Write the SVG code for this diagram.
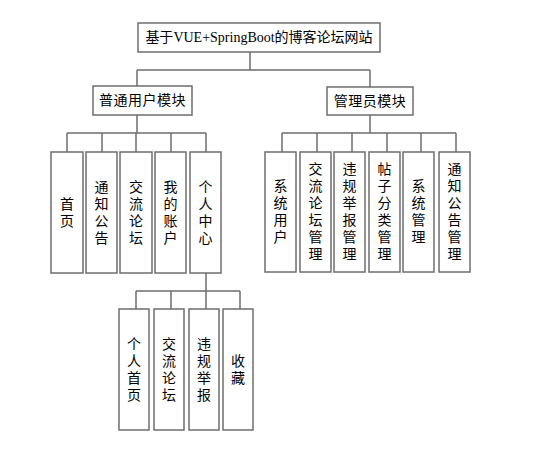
<svg xmlns="http://www.w3.org/2000/svg" width="546" height="454" viewBox="0 0 546 454">
<style>
.box{fill:#fff;stroke:#6e6e6e;stroke-width:1.5}
.t{font-family:"Liberation Serif","Noto Sans CJK SC",serif;font-size:14px;fill:#000}
.h{font-family:"Noto Sans CJK SC",sans-serif;font-size:14px;fill:#000;text-anchor:middle}
.v{font-family:"Noto Sans CJK SC",sans-serif;font-size:14px;fill:#000;text-anchor:middle;writing-mode:vertical-rl;letter-spacing:3px}
.c{fill:none;stroke:#6e6e6e;stroke-width:1.5}
</style>
<rect width="546" height="454" fill="#fff"/>
<g id="connectors">
<path class="c" d="M250 52V70M137 70H370M137 70V86M370 70V87"/>
<path class="c" d="M137 115V133M67 133H206M67 133V152M102 133V152M136 133V152M171 133V152M206 133V152"/>
<path class="c" d="M370 115V133M282 133H456M282 133V152M317 133V152M352 133V152M387 133V152M421 133V152M456 133V152"/>
<path class="c" d="M206 273V291M136 291H240M136 291V309M171 291V309M206 291V309M240 291V309"/>
</g>
<g id="root">
<rect class="box" x="138" y="23" width="242" height="29"/>
<text x="259" y="42" class="t" text-anchor="middle"><tspan font-family="Noto Sans CJK SC">基于</tspan>VUE+SpringBoot<tspan font-family="Noto Sans CJK SC">的博客论坛网站</tspan></text>
</g>
<g id="user">
<rect class="box" x="93" y="86" width="99" height="29"/>
<text x="142.5" y="105" class="h" letter-spacing="0.5">普通用户模块</text>
</g>
<g id="admin">
<rect class="box" x="327" y="87" width="86" height="28"/>
<text x="370" y="106" class="h" letter-spacing="0.5">管理员模块</text>
</g>
<g id="u1"><rect class="box" x="51" y="152" width="32" height="121"/><text class="v" x="67" y="214">首页</text></g>
<g id="u2"><rect class="box" x="86" y="152" width="31" height="121"/><text class="v" x="101.5" y="214">通知公告</text></g>
<g id="u3"><rect class="box" x="120" y="152" width="32" height="121"/><text class="v" x="136" y="214">交流论坛</text></g>
<g id="u4"><rect class="box" x="155" y="152" width="31" height="121"/><text class="v" x="170.5" y="214">我的账户</text></g>
<g id="u5"><rect class="box" x="190" y="152" width="31" height="121"/><text class="v" x="205.5" y="214">个人中心</text></g>
<g id="a1"><rect class="box" x="265" y="152" width="31" height="120"/><text class="v" x="280.5" y="213">系统用户</text></g>
<g id="a2"><rect class="box" x="300" y="152" width="31" height="120"/><text class="v" x="315.5" y="213">交流论坛管理</text></g>
<g id="a3"><rect class="box" x="334" y="152" width="31" height="120"/><text class="v" x="349.5" y="213">违规举报管理</text></g>
<g id="a4"><rect class="box" x="369" y="152" width="31" height="120"/><text class="v" x="384.5" y="213">帖子分类管理</text></g>
<g id="a5"><rect class="box" x="403" y="152" width="31" height="120"/><text class="v" x="418.5" y="213">系统管理</text></g>
<g id="a6"><rect class="box" x="439" y="152" width="31" height="120"/><text class="v" x="454.5" y="213">通知公告管理</text></g>
<g id="s1"><rect class="box" x="119" y="309" width="30" height="121"/><text class="v" x="134" y="371">个人首页</text></g>
<g id="s2"><rect class="box" x="154" y="309" width="30" height="121"/><text class="v" x="169" y="371">交流论坛</text></g>
<g id="s3"><rect class="box" x="189" y="309" width="30" height="121"/><text class="v" x="204" y="371">违规举报</text></g>
<g id="s4"><rect class="box" x="223" y="309" width="30" height="121"/><text class="v" x="238" y="371">收藏</text></g>
</svg>
